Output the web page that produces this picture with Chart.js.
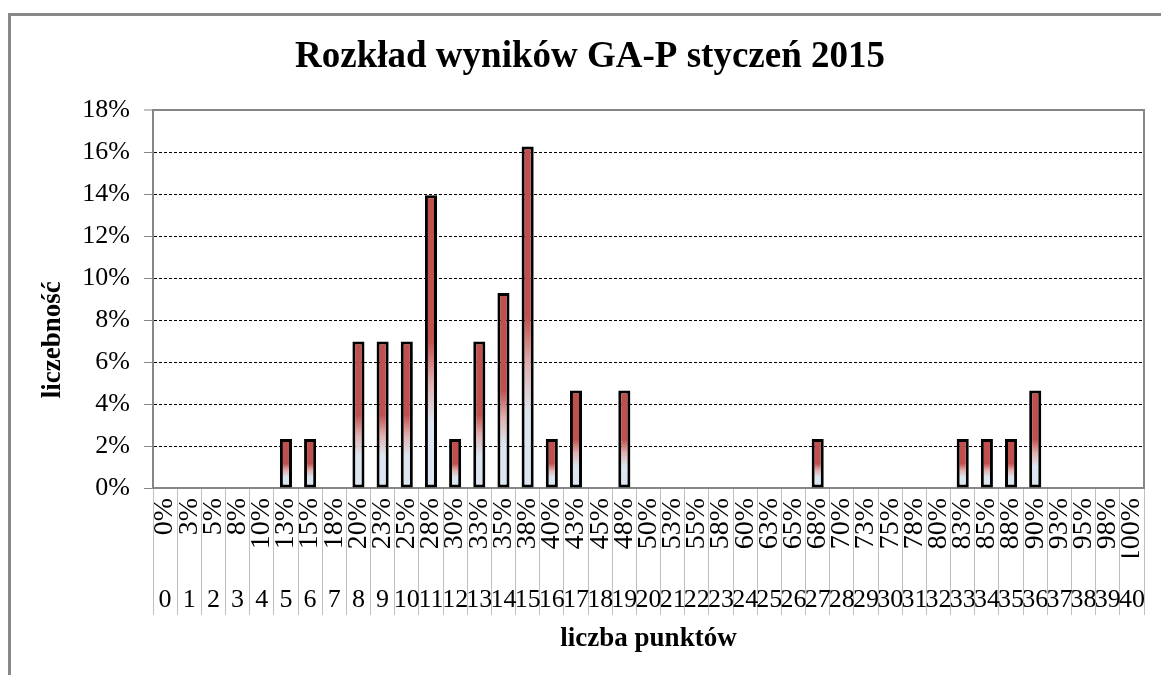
<!DOCTYPE html>
<html><head><meta charset="utf-8">
<script src="https://cdn.jsdelivr.net/npm/chart.js@4"></script>
<style>
html,body{margin:0;padding:0;background:#fff;overflow:hidden;}
#wrap{position:relative;width:1161px;height:675px;overflow:hidden;}
#frame{position:absolute;left:8px;top:13px;width:1200px;height:700px;border:3px solid #888;box-sizing:border-box;pointer-events:none;}
canvas{position:absolute;left:0;top:0;}
</style></head><body>
<div id="wrap"><canvas id="c" width="1161" height="675"></canvas><div id="frame"></div></div>
<script>
const titleText = 'Rozkład wyników GA-P styczeń 2015';
const yTitle = 'liczebność';
const xTitle = 'liczba punktów';
const points = ['0','1','2','3','4','5','6','7','8','9','10','11','12','13','14','15','16','17','18','19','20','21','22','23','24','25','26','27','28','29','30','31','32','33','34','35','36','37','38','39','40'];
const pctLabels = ['0%','3%','5%','8%','10%','13%','15%','18%','20%','23%','25%','28%','30%','33%','35%','38%','40%','43%','45%','48%','50%','53%','55%','58%','60%','63%','65%','68%','70%','73%','75%','78%','80%','83%','85%','88%','90%','93%','95%','98%','100%'];
const shares = [0,0,0,0,0,0.0233,0.0233,0,0.0698,0.0698,0.0698,0.1395,0.0233,0.0698,0.093,0.1628,0.0233,0.0465,0,0.0465,0,0,0,0,0,0,0,0.0233,0,0,0,0,0,0.0233,0.0233,0.0233,0.0465,0,0,0,0];
const yTickLabels = ['0%','2%','4%','6%','8%','10%','12%','14%','16%','18%'];

const F = "'Liberation Serif','Times New Roman',serif";
const RED = '#c0504d', LIGHT = '#dce6f2';

function barFill(ctx) {
  const chart = ctx.chart;
  if (!chart.chartArea || ctx.raw == null) return RED;
  const ys = chart.scales.y;
  const top = ys.getPixelForValue(ctx.raw);
  const bot = ys.getPixelForValue(0);
  if (Math.abs(bot - top) < 1) return RED;
  const g = chart.ctx.createLinearGradient(0, bot, 0, top);
  g.addColorStop(0, LIGHT);
  g.addColorStop(0.22, LIGHT);
  g.addColorStop(0.36, '#e0b0af');
  g.addColorStop(0.5, RED);
  g.addColorStop(1, RED);
  return g;
}
const isTop = (c) => c.index === yTickLabels.length - 1;

new Chart(document.getElementById('c'), {
  type: 'bar',
  data: {
    labels: pctLabels,
    datasets: [{
      data: shares, xAxisID: 'x', yAxisID: 'y',
      backgroundColor: barFill, borderColor: '#000', borderWidth: 3, borderSkipped: false,
      barPercentage: 0.5, categoryPercentage: 1
    }]
  },
  options: {
    responsive: false, animation: false, devicePixelRatio: 1,
    layout: { padding: { left: 36, right: 17, top: 0, bottom: 20 } },
    plugins: {
      legend: { display: false }, tooltip: { enabled: false },
      title: { display: true, text: titleText, color: '#000',
        font: { family: F, size: 37, weight: 'bold', lineHeight: 1.2 },
        padding: { top: 35, bottom: 31 } }
    },
    scales: {
      x: {
        type: 'category', position: 'bottom', offset: true,
        grid: { offset: true, drawOnChartArea: false, drawTicks: true, tickLength: 127, tickColor: '#bfbfbf', tickWidth: 1 },
        border: { display: true, color: '#868686', width: 2 },
        ticks: { autoSkip: false, minRotation: 90, maxRotation: 90, padding: -117, color: '#000', font: { family: F, size: 28 } },
        afterFit: (s) => { s.height = 69; s.paddingLeft = 0; s.paddingRight = 0; }
      },
      x2: {
        type: 'category', labels: points, position: 'bottom', offset: true,
        grid: { display: false, drawTicks: false }, border: { display: false },
        ticks: { autoSkip: false, minRotation: 0, maxRotation: 0, padding: 28, color: '#000', font: { family: F, size: 26 } },
        title: { display: true, text: xTitle, color: '#000', font: { family: F, size: 27, weight: 'bold', lineHeight: 1.2 }, padding: 0 },
        afterFit: (s) => { s.height = 98; s.paddingLeft = 0; s.paddingRight = 0; }
      },
      y: {
        position: 'left', min: 0, max: 0.18,
        ticks: { stepSize: 0.02, padding: 14, color: '#000', font: { family: F, size: 26 }, callback: (v, i) => yTickLabels[i] },
        grid: { color: (c) => isTop(c) ? '#868686' : '#000', lineWidth: (c) => isTop(c) ? 2 : 1,
          drawTicks: true, tickLength: 9, tickColor: '#868686', tickWidth: 1, tickBorderDash: [] },
        border: { display: true, color: '#868686', width: 2, dash: (c) => isTop(c) ? [] : [3, 2] },
        title: { display: true, text: yTitle + '            ', color: '#000', font: { family: F, size: 27, weight: 'bold', lineHeight: 1.2 }, padding: { top: 1, bottom: 0 } },
        afterFit: (s) => { s.width = 117; s.paddingTop = 0; s.paddingBottom = 0; }
      },
      y2: {
        position: 'right', display: true,
        grid: { drawOnChartArea: false, drawTicks: false },
        ticks: { display: false },
        border: { display: true, color: '#868686', width: 2 },
        afterFit: (s) => { s.width = 0; }
      }
    }
  }
});
</script>
</body></html>
